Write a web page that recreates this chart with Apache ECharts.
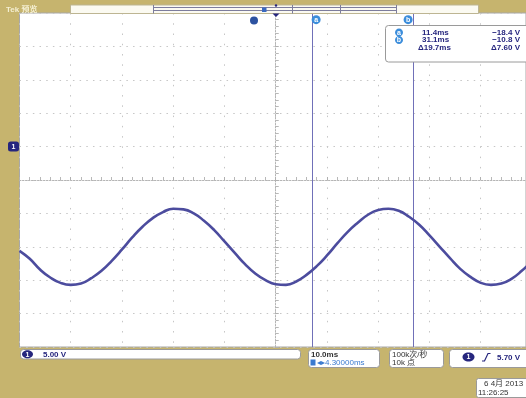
<!DOCTYPE html>
<html><head><meta charset="utf-8">
<script src="https://cdn.jsdelivr.net/npm/echarts@6/dist/echarts.min.js"></script>
<style>html,body{margin:0;padding:0;background:#c6b46e;}#c{width:526px;height:398px;}</style>
</head><body><div id="c"></div>
<script>
// ---- data ----
const timesMs = [-45.7,-43.7,-41.7,-39.7,-37.7,-35.7,-33.7,-31.7,-29.7,-27.7,-25.7,-23.7,-21.7,-19.7,-17.7,-15.7,-13.7,-11.7,-9.7,-7.7,-5.7,-3.7,-1.7,0.3,2.3,4.3,6.3,8.3,10.3,12.3,14.3,16.3,18.3,20.3,22.3,24.3,26.3,28.3,30.3,32.3,34.3,36.3,38.3,40.3,42.3,44.3,46.3,48.3,50.3,52.3,54.3];
const ch1Volts = [-15.6,-16.8,-18.4,-19.6,-20.4,-20.7,-20.5,-19.7,-18.6,-17.1,-15.4,-13.6,-12.0,-10.7,-9.8,-9.3,-9.4,-10.0,-11.1,-12.5,-14.2,-15.9,-17.6,-19.0,-20.0,-20.6,-20.7,-20.2,-19.2,-17.9,-16.3,-14.5,-12.8,-11.4,-10.2,-9.5,-9.3,-9.6,-10.5,-11.7,-13.3,-15.0,-16.7,-18.3,-19.5,-20.4,-20.7,-20.5,-19.8,-18.6,-17.1];
const cursorNames = ['a', 'b'];
const cursorTimes = [11.4, 31.1];
const cursorVolts = [-18.4, -10.8];
const voltsPerDiv = 5.00;
const timePerDiv = 10.0;
const horizPosMs = 4.3;
const groundDivAboveCenter = 1;
const triggerLevel = 5.70;
const sampleRateText = '100k次/秒';
const recordText = '10k 点';
const dateLines = ['6 4月 2013', '11:26:25'];
const titleText = 'Tek 预览';
// the screenshot cuts the right part of the last division
const visibleDivs = 9.883;

// ---- derived ----
const xMin = horizPosMs - 5 * timePerDiv, xMax = xMin + visibleDivs * timePerDiv;
const yMin = -(5 + groundDivAboveCenter) * voltsPerDiv, yMax = (5 - groundDivAboveCenter) * voltsPerDiv;
const fmtV = v => (v < 0 ? '−' : '') + Math.abs(v).toFixed(1) + ' V';
const dT = cursorTimes[1] - cursorTimes[0], dV = cursorVolts[1] - cursorVolts[0];

const navy = '#26267e', trace = '#4c4c9e', cursorBlue = '#3b8ddb', cursorLine = '#7070b8';
const FONT = '"Liberation Sans","Noto Sans CJK SC",sans-serif';
const gridPos = {left: 19.5, width: 507, top: 13, height: 334};
const gridGray = '#c6c6c6';

function txt(x, y, text, opt) {
  opt = opt || {};
  return {type: 'text', x: x, y: y, z: 100, style: {text: text, fill: opt.fill || navy,
    font: (opt.weight || 'bold') + ' ' + (opt.size || 8) + 'px ' + FONT,
    textAlign: opt.align || 'left', align: opt.align || 'left',
    textVerticalAlign: 'middle', verticalAlign: 'middle'}};
}
function box(x, y, w, h, r) {
  return {type: 'rect', z: 99, shape: {x: x, y: y, width: w, height: h, r: r || 3},
    style: {fill: '#ffffff', stroke: '#9a9a9a', lineWidth: 1}};
}
function badge(cx, cy, letter, color, rx, ry) {
  return [{type: 'ellipse', z: 100, shape: {cx: cx, cy: cy, rx: rx || 4, ry: ry || 4}, style: {fill: color}},
          {type: 'text', x: cx, y: cy + 0.5, z: 101, style: {text: letter, fill: '#fff', font: 'bold 7px ' + FONT,
           textAlign: 'center', align: 'center', textVerticalAlign: 'middle', verticalAlign: 'middle'}}];
}

const graphics = [
  // top bar
  txt(6, 9.5, titleText, {fill: '#f4efd2', size: 8}),
  {type: 'rect', z: 98, shape: {x: 70.5, y: 5, width: 408, height: 8.5}, style: {fill: '#fbfaf1', stroke: '#bdb592', lineWidth: 1}},
  {type: 'line', z: 99, shape: {x1: 153, y1: 7.5, x2: 397, y2: 7.5}, style: {stroke: '#7d7d9d', lineWidth: 1}},
  {type: 'line', z: 99, shape: {x1: 153, y1: 10.5, x2: 397, y2: 10.5}, style: {stroke: '#7d7d9d', lineWidth: 1}},
  {type: 'line', z: 99, shape: {x1: 153.5, y1: 5, x2: 153.5, y2: 13.5}, style: {stroke: '#7d7d9d', lineWidth: 1}},
  {type: 'line', z: 99, shape: {x1: 292.5, y1: 5, x2: 292.5, y2: 13.5}, style: {stroke: '#7d7d9d', lineWidth: 1}},
  {type: 'line', z: 99, shape: {x1: 340.5, y1: 5, x2: 340.5, y2: 13.5}, style: {stroke: '#7d7d9d', lineWidth: 1}},
  {type: 'line', z: 99, shape: {x1: 396.5, y1: 5, x2: 396.5, y2: 13.5}, style: {stroke: '#7d7d9d', lineWidth: 1}},
  {type: 'rect', z: 100, shape: {x: 262, y: 7.5, width: 4.5, height: 4.5}, style: {fill: '#3a6ac0'}},
  {type: 'polygon', z: 100, shape: {points: [[272.5, 13.5], [279.5, 13.5], [276, 17]]}, style: {fill: navy}},
  {type: 'circle', z: 100, shape: {cx: 276, cy: 5.5, r: 1.2}, style: {fill: navy}},
  {type: 'circle', z: 100, shape: {cx: 254, cy: 20.5, r: 4}, style: {fill: '#2c52a0'}},
  // readout box
  box(385.5, 25.5, 150, 36.5, 3),
  ...badge(399, 32.5, cursorNames[0], cursorBlue),
  ...badge(399, 40, cursorNames[1], cursorBlue),
  txt(422, 32.5, cursorTimes[0].toFixed(1) + 'ms'),
  txt(520, 32.5, fmtV(cursorVolts[0]), {align: 'right'}),
  txt(422, 40, cursorTimes[1].toFixed(1) + 'ms'),
  txt(520, 40, fmtV(cursorVolts[1]), {align: 'right'}),
  txt(418, 47.5, 'Δ' + dT.toFixed(1) + 'ms'),
  txt(520, 47.5, 'Δ' + Math.abs(dV).toFixed(2) + ' V', {align: 'right'}),
  // bottom bar
  box(20.5, 349.5, 280, 9.5, 3),
  ...badge(27.5, 354.3, '1', navy, 5.5, 4),
  txt(43, 354.3, voltsPerDiv.toFixed(2) + ' V'),
  box(308.5, 349.5, 71, 18, 3),
  txt(311, 354.5, timePerDiv.toFixed(1) + 'ms', {fill: '#333'}),
  {type: 'rect', z: 100, shape: {x: 310.5, y: 359.5, width: 5, height: 6}, style: {fill: '#3a7ad0'}},
  txt(317, 362.5, '◂▸' + horizPosMs.toFixed(5) + 'ms', {fill: '#3a7ad0', weight: 'normal'}),
  box(389.5, 349.5, 54, 18, 3),
  txt(392, 354.5, sampleRateText, {fill: '#333', weight: 'normal'}),
  txt(392, 362.5, recordText, {fill: '#333', weight: 'normal'}),
  box(449.5, 349.5, 90, 18, 3),
  ...badge(468.5, 357, '1', navy, 6, 4.5),
  {type: 'polyline', z: 100, shape: {points: [[482, 361], [484.5, 361], [488, 353.5], [490.5, 353.5]]}, style: {stroke: navy, lineWidth: 1.2, fill: null}},
  txt(497, 357.5, triggerLevel.toFixed(2) + ' V'),
  box(476.5, 378.5, 60, 19, 2),
  txt(484, 384, dateLines[0], {fill: '#333', weight: 'normal'}),
  txt(478, 392.5, dateLines[1], {fill: '#333', weight: 'normal'})
];

const chart = echarts.init(document.getElementById('c'), null, {renderer: 'canvas'});
chart.setOption({
  backgroundColor: '#c6b46e',
  animation: false,
  grid: [
    Object.assign({show: true, backgroundColor: '#ffffff', borderColor: '#a8a8a8', borderWidth: 1, z: 0}, gridPos),
    Object.assign({show: false}, gridPos)
  ],
  xAxis: [
    {type: 'value', gridIndex: 0, min: xMin, max: xMax, show: false},
    {type: 'value', gridIndex: 1, min: -5, max: -5 + visibleDivs, interval: 1, z: 1,
     axisLabel: {show: false},
     axisLine: {show: true, onZero: true, lineStyle: {color: '#b4b4b4', type: [1.5, 1.5]}},
     axisTick: {show: true, inside: true, length: 3, lineStyle: {color: '#b0b0b0'}},
     minorTick: {show: true, splitNumber: 5, length: 3, lineStyle: {color: '#b8b8b8'}},
     splitLine: {show: true, lineStyle: {color: gridGray, width: 1, type: [1.5, 8.76]}}}
  ],
  yAxis: [
    {type: 'value', gridIndex: 0, min: yMin, max: yMax, interval: voltsPerDiv, show: false},
    {type: 'value', gridIndex: 1, min: -5, max: 5, interval: 1, z: 1,
     axisLabel: {show: false},
     axisLine: {show: true, onZero: true, lineStyle: {color: '#b4b4b4', type: [1.5, 1.5]}},
     axisTick: {show: true, inside: true, length: 3, lineStyle: {color: '#b0b0b0'}},
     minorTick: {show: true, splitNumber: 5, length: 3, lineStyle: {color: '#b8b8b8'}},
     splitLine: {show: true, lineStyle: {color: gridGray, width: 1, type: [1.5, 5.18]}}}
  ],
  series: [{
    type: 'line', xAxisIndex: 0, yAxisIndex: 0, z: 5,
    data: timesMs.map((t, i) => [t, ch1Volts[i]]),
    smooth: true, showSymbol: false, silent: true,
    lineStyle: {color: trace, width: 2.6},
    markLine: {
      symbol: 'none', silent: true, animation: false,
      label: {show: false},
      lineStyle: {color: cursorLine, width: 1, type: 'solid'},
      data: cursorTimes.map(t => ({xAxis: t}))
    },
    markPoint: {
      silent: true, animation: false,
      data: [
        {coord: [cursorTimes[0], yMax - 0.2 * voltsPerDiv], symbol: 'circle', symbolSize: 9, symbolOffset: [4, 0],
         itemStyle: {color: cursorBlue}, label: {show: true, formatter: cursorNames[0], color: '#fff', fontSize: 7, fontWeight: 'bold'}},
        {coord: [cursorTimes[1], yMax - 0.2 * voltsPerDiv], symbol: 'circle', symbolSize: 9, symbolOffset: [-5, 0],
         itemStyle: {color: cursorBlue}, label: {show: true, formatter: cursorNames[1], color: '#fff', fontSize: 7, fontWeight: 'bold'}},
        {coord: [xMin, 0], symbol: 'roundRect', symbolSize: [11, 10], symbolOffset: [-6, 0],
         itemStyle: {color: navy}, label: {show: true, formatter: '1', color: '#fff', fontSize: 7, fontWeight: 'bold'}}
      ]
    }
  }],
  graphic: graphics
});
</script></body></html>
